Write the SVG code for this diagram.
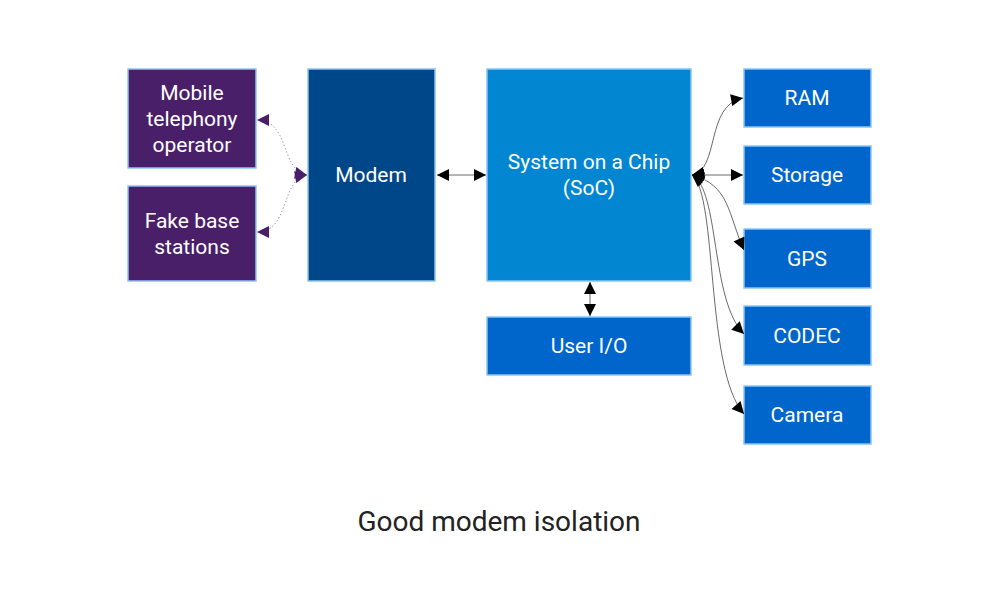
<svg xmlns="http://www.w3.org/2000/svg" width="1000" height="600" viewBox="0 0 1000 600">
<style>
.box{stroke:#8cc4f4;stroke-width:1.5}
.t{font-family:Roboto,"Liberation Sans",sans-serif;font-size:21px;fill:#ffffff;text-anchor:middle}
.p{fill:#4a1f6a}
.m{fill:#00478a}
.s{fill:#0286d2}
.b{fill:#0066cc}
.e{fill:none;stroke:#444;stroke-width:0.8}
.d{fill:none;stroke:#a79bc0;stroke-width:1;stroke-dasharray:1.5 2}
</style>
<defs>
<marker id="ah" viewBox="0 0 10 10" refX="10" refY="5" markerWidth="17" markerHeight="12" markerUnits="userSpaceOnUse" orient="auto-start-reverse"><path d="M0,0 L10,5 L0,10 z" fill="#000"/></marker>
<marker id="ap" viewBox="0 0 10 10" refX="10" refY="5" markerWidth="17" markerHeight="12" markerUnits="userSpaceOnUse" orient="auto-start-reverse"><path d="M0,0 L10,5 L0,10 z" fill="#4a1f6a"/></marker>
</defs>
<rect width="1000" height="600" fill="#fff"/>
<g id="mobile"><rect class="box p" x="128" y="69" width="128" height="99"/><text class="t" x="192" y="100">Mobile</text><text class="t" x="192" y="126">telephony</text><text class="t" x="192" y="152">operator</text></g>
<g id="fake"><rect class="box p" x="128" y="186" width="128" height="95"/><text class="t" x="192" y="228">Fake base</text><text class="t" x="192" y="254">stations</text></g>
<g id="modem"><rect class="box m" x="308" y="69" width="127" height="212"/><text class="t" x="371" y="182">Modem</text></g>
<g id="soc"><rect class="box s" x="487" y="69" width="204" height="212"/><text class="t" x="589" y="169">System on a Chip</text><text class="t" x="589" y="195">(SoC)</text></g>
<g id="userio"><rect class="box b" x="487" y="317" width="204" height="58"/><text class="t" x="589" y="353">User I/O</text></g>
<g id="ram"><rect class="box b" x="744" y="69" width="127" height="58"/><text class="t" x="807" y="105">RAM</text></g>
<g id="storage"><rect class="box b" x="744" y="146" width="127" height="58"/><text class="t" x="807" y="182">Storage</text></g>
<g id="gps"><rect class="box b" x="744" y="229" width="127" height="59"/><text class="t" x="807" y="266">GPS</text></g>
<g id="codec"><rect class="box b" x="744" y="306" width="127" height="59"/><text class="t" x="807" y="343">CODEC</text></g>
<g id="camera"><rect class="box b" x="744" y="386" width="127" height="58"/><text class="t" x="807" y="422">Camera</text></g>
<g id="connectors">
<path class="d" d="M307,175 C280,170 290,120 257,120" marker-start="url(#ap)" marker-end="url(#ap)"/>
<path class="d" d="M307,175 C280,180 290,232 257,232" marker-start="url(#ap)" marker-end="url(#ap)"/>
<path class="e" d="M437,175 L486,175" marker-start="url(#ah)" marker-end="url(#ah)"/>
<path class="e" d="M590,282 L590,316" marker-start="url(#ah)" marker-end="url(#ah)"/>
<path class="e" d="M692,175 C720,170 705,105 743,98" marker-start="url(#ah)" marker-end="url(#ah)"/>
<path class="e" d="M692,175 L743,175" marker-start="url(#ah)" marker-end="url(#ah)"/>
<path class="e" d="M692,175 C730,185 728,215 744,250" marker-start="url(#ah)" marker-end="url(#ah)"/>
<path class="e" d="M692,175 C720,190 710,300 744,334" marker-start="url(#ah)" marker-end="url(#ah)"/>
<path class="e" d="M692,175 C718,195 705,370 744,414" marker-start="url(#ah)" marker-end="url(#ah)"/>
</g>
<text x="499" y="531" font-family="Roboto,'Liberation Sans',sans-serif" font-size="28" fill="#222" text-anchor="middle">Good modem isolation</text>
</svg>
